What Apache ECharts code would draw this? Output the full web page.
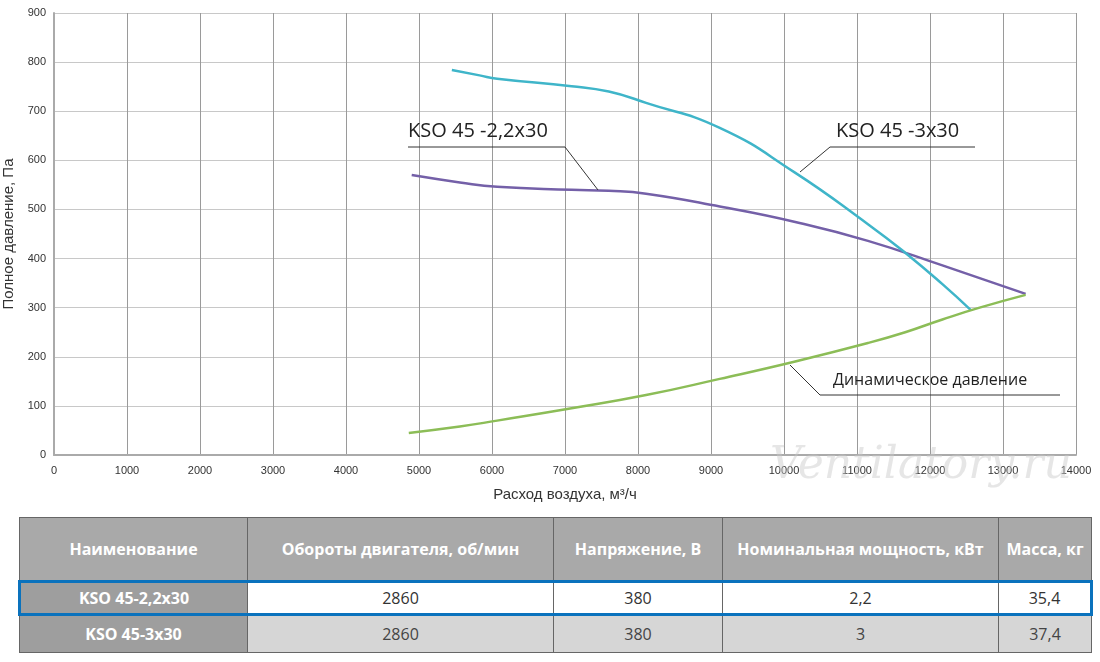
<!DOCTYPE html>
<html><head><meta charset="utf-8">
<script src="https://cdn.jsdelivr.net/npm/echarts@6/dist/echarts.min.js"></script>
<style>
body{margin:0;background:#fff;width:1100px;height:662px;overflow:hidden;font-family:"Open Sans",sans-serif}
#c{position:absolute;left:0;top:0;width:1100px;height:510px}
table{position:absolute;left:18px;top:517px;width:1075px;border-collapse:collapse;font-family:"Liberation Sans Narrow","Open Sans",sans-serif;font-size:16px;text-align:center}
td{border:1px solid #666;padding:0}
.h td{background:#a9a9a9;color:#fff;height:62px;font-weight:bold}
.r1 td{background:#fff;color:#333;height:30px}
.r2 td{background:#d6d6d6;color:#444;height:36px}
td.n{background:#9e9e9e !important;color:#fff !important;font-weight:bold}
.r1 td{border-top:3px solid #0a72bd;border-bottom:3px solid #0a72bd}
.r1 td:first-child{border-left:3px solid #0a72bd}
.r1 td:last-child{border-right:3px solid #0a72bd}
</style></head><body>
<div id="c"></div>
<table>
<tr class="h"><td style="width:227px">Наименование</td><td style="width:305px">Обороты двигателя, об/мин</td><td style="width:168px">Напряжение, В</td><td style="width:275px">Номинальная мощность, кВт</td><td>Масса, кг</td></tr>
<tr class="r1"><td class="n">KSO 45-2,2x30</td><td>2860</td><td>380</td><td>2,2</td><td>35,4</td></tr>
<tr class="r2"><td class="n">KSO 45-3x30</td><td>2860</td><td>380</td><td>3</td><td>37,4</td></tr>
</table>
<script>
const kso22 = [[4900,570],[5560,555],[6070,546],[7090,540],[7600,538],[8110,532],[9120,506],[10140,475],[11150,436],[12170,386],[13310,328]];
const kso3 = [[5450,784],[5830,773],[6070,766],[7090,751],[7600,740],[8110,717],[9120,666],[10140,576],[11150,470],[11660,412],[12170,348],[12560,295]];
const dyn = [[4860,45],[5560,58],[6070,70],[7090,95],[8110,122],[9120,155],[10140,190],[11150,228],[11660,250],[12170,276],[12680,300],[13310,326]];
const ch = echarts.init(document.getElementById('c'));
const txt = {fontFamily:'Open Sans',fontSize:20,fill:'#222'};
function ln(x1,y1,x2,y2){return {type:'line',shape:{x1,y1,x2,y2},style:{stroke:'#333',lineWidth:1},z:50};}
ch.setOption({
 animation:false,
 grid:{left:54,right:24,top:13,bottom:55,outerBoundsMode:'none',containLabel:false},
 xAxis:{type:'value',min:0,max:14000,interval:1000,
  name:'Расход воздуха, м³/ч',nameLocation:'middle',nameGap:32,nameTextStyle:{fontSize:15,color:'#333'},
  axisLine:{lineStyle:{color:'#aaa',width:2}},axisTick:{show:false},
  axisLabel:{color:'#333',fontSize:11,margin:10,formatter:v=>String(v)},splitLine:{lineStyle:{color:'#9a9a9a'}}},
 yAxis:{type:'value',min:0,max:900,interval:100,
  name:'Полное давление, Па',nameLocation:'middle',nameGap:34,nameTextStyle:{fontSize:15,color:'#333'},
  axisLine:{show:true,lineStyle:{color:'#aaa',width:2}},axisTick:{show:false},
  axisLabel:{color:'#333',fontSize:11},splitLine:{lineStyle:{color:'#c8c8c8'}}},
 series:[
  {type:'line',data:kso22,smooth:true,symbol:'none',lineStyle:{color:'#7460a8',width:2.5}},
  {type:'line',data:kso3,smooth:true,symbol:'none',lineStyle:{color:'#3fb5c9',width:2.5}},
  {type:'line',data:dyn,smooth:true,symbol:'none',lineStyle:{color:'#8cbd57',width:2.5}}
 ],
 graphic:[
  {type:'text',left:770,top:445,style:{text:'Ventilatory.ru',fontSize:44,fontStyle:'italic',fontFamily:'DejaVu Serif',fill:'rgba(200,200,200,0.45)'},z:1},
  {type:'text',left:408,top:121,style:Object.assign({text:'KSO 45 -2,2x30'},txt),z:50},
  ln(408,147,565,147),ln(565,147,598,190),
  {type:'text',left:836,top:121,style:Object.assign({text:'KSO 45 -3x30'},txt),z:50},
  ln(830,147,975,147),ln(830,147,800,172),
  {type:'text',left:833,top:372,style:{text:'Динамическое давление',fontFamily:'Open Sans',fontSize:16,fill:'#222'},z:50},
  ln(820,395,1060,395),ln(820,395,790,365)
 ]
});
</script></body></html>
